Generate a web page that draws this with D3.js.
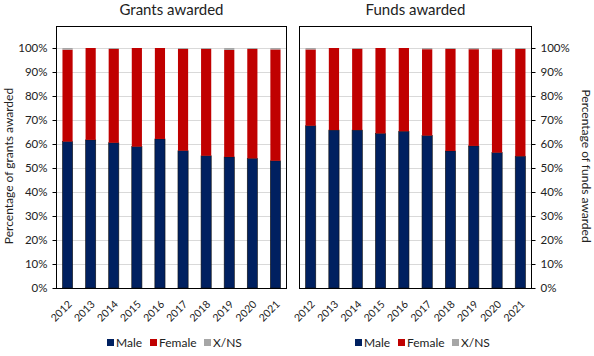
<!DOCTYPE html>
<html><head><meta charset="utf-8">
<script src="https://cdn.jsdelivr.net/npm/d3@7"></script>
<style>body{margin:0;background:#fff}svg{display:block}text{font-family:Lato,"Noto Sans",sans-serif;fill:#222;font-weight:400}</style>
</head><body><svg id="c" width="594" height="356"></svg>
<script>
const years = ["2012","2013","2014","2015","2016","2017","2018","2019","2020","2021"];
const grantsMale   = [61.0, 61.7, 60.5, 58.9, 62.1, 57.2, 55.1, 54.6, 54.0, 53.0];
const grantsFemale = [38.3, 38.3, 39.1, 41.1, 37.9, 42.4, 44.5, 44.6, 45.6, 46.4];
const grantsXNS    = [0.7, 0.0, 0.4, 0.0, 0.0, 0.4, 0.4, 0.8, 0.4, 0.6];
const fundsMale    = [67.6, 65.8, 65.8, 64.4, 65.3, 63.5, 57.1, 59.2, 56.4, 54.9];
const fundsFemale  = [31.8, 34.2, 33.8, 35.6, 34.7, 36.0, 42.5, 40.3, 43.1, 44.7];
const fundsXNS     = [0.6, 0.0, 0.4, 0.0, 0.0, 0.5, 0.4, 0.5, 0.5, 0.4];
const seriesNames = ["Male","Female","X/NS"];
const colors = ["#002060","#C00000","#A6A6A6"];
const yTicks = [0,10,20,30,40,50,60,70,80,90,100];

const svg = d3.select("#c");
const frameTop = 26, frameBottom = 289;
const y = d3.scaleLinear().domain([0,100]).range([frameBottom-1, 48]);

function panel(cfg){
  const g = svg.append("g");
  const x = d3.scaleBand().domain(years).range([cfg.x0, cfg.x1]).paddingInner(0.56).paddingOuter(0.28);
  g.selectAll("line.grid").data(yTicks.slice(1)).join("line")
    .attr("x1",cfg.x0).attr("x2",cfg.x1).attr("y1",d=>y(d)+0.5).attr("y2",d=>y(d)+0.5)
    .attr("stroke","#d9d9d9").attr("stroke-width",1);
  const rows = years.map((yr,i)=>({year:yr, Male:cfg.m[i], Female:cfg.f[i], "X/NS":cfg.x[i]}));
  const stack = d3.stack().keys(seriesNames)(rows);
  stack.forEach((s,si)=>{
    g.selectAll(null).data(s).join("rect")
      .attr("x",d=>x(d.data.year)).attr("width",x.bandwidth())
      .attr("y",d=>y(d[1])).attr("height",d=>Math.max(0,y(d[0])-y(d[1])))
      .attr("fill",colors[si])
      .attr("stroke", si===0 ? "#111" : "none").attr("stroke-width",0.6);
  });
  g.append("rect").attr("x",cfg.x0+0.5).attr("y",frameTop+0.5).attr("width",cfg.x1-cfg.x0-1).attr("height",frameBottom-frameTop-1)
    .attr("fill","none").attr("stroke","#000").attr("stroke-width",1);
  const ax = cfg.right ? d3.axisRight(y) : d3.axisLeft(y);
  ax.tickValues(yTicks).tickFormat(d=>d+"%").tickSize(4).tickPadding(5);
  const ag = g.append("g").attr("transform",`translate(${cfg.right?cfg.x1-0.5:cfg.x0+0.5},0)`).call(ax);
  ag.select(".domain").remove();
  ag.selectAll("line").attr("stroke","#000");
  ag.selectAll("text").style("font-size","11.5px").attr("fill","#222");
  const xg = g.append("g").attr("transform",`translate(0,${frameBottom})`).call(d3.axisBottom(x).tickSize(0).tickPadding(0));
  xg.select(".domain").remove();
  xg.selectAll("text").style("font-size","10.5px").attr("text-anchor","end")
    .attr("dy",null).attr("y",0)
    .attr("transform","translate(5,16) rotate(-45)");
  g.append("text").attr("x",(cfg.x0+cfg.x1)/2).attr("y",15).attr("text-anchor","middle")
    .style("font-size","15px").text(cfg.title);
  g.append("text").attr("transform",`translate(${cfg.lx},166) rotate(${cfg.right?90:-90})`)
    .attr("text-anchor","middle").style("font-size","12px").text(cfg.ylabel);
  const lg = g.append("g").attr("transform",`translate(${cfg.legX},343)`);
  let off = 0;
  const widths = [43,54,0];
  seriesNames.forEach((n,i)=>{
    lg.append("rect").attr("x",off).attr("y",-4).attr("width",7).attr("height",7).attr("fill",colors[i]);
    lg.append("text").attr("x",off+9).attr("y",4).style("font-size","12px").text(n);
    off += widths[i];
  });
}
panel({x0:56,x1:287,m:grantsMale,f:grantsFemale,x:grantsXNS,right:false,title:"Grants awarded",ylabel:"Percentage of grants awarded",lx:13,legX:107});
panel({x0:299,x1:532,m:fundsMale,f:fundsFemale,x:fundsXNS,right:true,title:"Funds awarded",ylabel:"Percentage of funds awarded",lx:582,legX:355});
</script></body></html>
